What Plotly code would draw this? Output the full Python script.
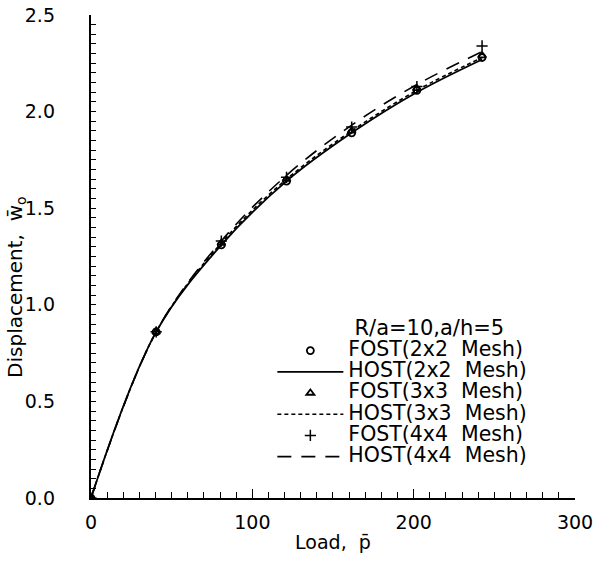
import plotly.graph_objects as go

load = [0, 40.4, 80.8, 121.2, 161.6, 202, 242.4]

fost_2x2 = [0, 0.86, 1.31, 1.64, 1.89, 2.11, 2.28]
host_2x2 = [0, 0.86, 1.31, 1.64, 1.89, 2.10, 2.27]
fost_3x3 = [0, 0.86, 1.32, 1.65, 1.90, 2.12, 2.29]
host_3x3 = [0, 0.86, 1.32, 1.65, 1.90, 2.11, 2.28]
fost_4x4 = [0, 0.86, 1.33, 1.66, 1.92, 2.13, 2.34]
host_4x4 = [0, 0.86, 1.33, 1.67, 1.93, 2.14, 2.31]

x_ticks = [0, 100, 200, 300]
y_ticks = [0, 0.5, 1.0, 1.5, 2.0, 2.5]

legend_title = "R/a=10,a/h=5"
names = ["FOST(2x2  Mesh)", "HOST(2x2  Mesh)", "FOST(3x3  Mesh)",
         "HOST(3x3  Mesh)", "FOST(4x4  Mesh)", "HOST(4x4  Mesh)"]
x_title = "Load,  p\u0304"
y_title = "Displacement,  w\u0304<sub>o</sub>"

FONT = "DejaVu Sans"
NB = "\u00a0"


def big(t):
    return '<span style="font-size:20.5px">' + t + '</span>'


fig = go.Figure()

fig.add_trace(go.Scatter(x=load, y=fost_2x2, mode="markers", name=big(names[0]),
                         marker=dict(symbol="circle-open", size=7, color="black", line=dict(width=1.8))))
fig.add_trace(go.Scatter(x=load, y=host_2x2, mode="lines", name=big(names[1]), line_shape="spline",
                         line=dict(color="black", width=1.8)))
fig.add_trace(go.Scatter(x=load, y=fost_3x3, mode="markers", name=big(names[2]),
                         marker=dict(symbol="triangle-up-open", size=7, color="black", line=dict(width=1.8))))
fig.add_trace(go.Scatter(x=load, y=host_3x3, mode="lines", name=big(names[3]), line_shape="spline",
                         line=dict(color="black", width=1.6, dash="4px,3px")))
fig.add_trace(go.Scatter(x=load, y=fost_4x4, mode="markers", name=big(names[4]),
                         xaxis="x3", yaxis="y3",
                         marker=dict(symbol="cross-thin-open", size=8, color="black", line=dict(width=1.5))))
fig.add_trace(go.Scatter(x=load, y=host_4x4, mode="lines", name=big(names[5]), line_shape="spline",
                         xaxis="x2", yaxis="y2",
                         line=dict(color="black", width=1.6, dash="14px,10px")))

xr = [x_ticks[0], x_ticks[-1]]
yr = [y_ticks[0], y_ticks[-1]]
XDOM = [0.0692, 1.0]

fig.update_layout(
    width=593, height=561,
    margin=dict(l=55, r=18, t=15, b=63),
    paper_bgcolor="white", plot_bgcolor="white",
    font=dict(family=FONT, size=19, color="black"),
    showlegend=True,
    legend=dict(
        title=dict(text=NB * 12 + legend_title, font=dict(size=21)),
        x=0.418, y=0.394, xanchor="left", yanchor="top",
        bgcolor="rgba(0,0,0,0)", itemwidth=66, tracegroupgap=0,
        font=dict(size=14), itemsizing="trace",
    ),
    xaxis=dict(
        domain=XDOM, range=xr, automargin=False,
        tickmode="array", tickvals=x_ticks,
        showline=True, linecolor="black", linewidth=1.5,
        ticks="inside", ticklen=9, tickwidth=1.3, tickcolor="black",
        showgrid=False, zeroline=False,
        ticklabelstandoff=6, ticklabeloverflow="allow",
        title=dict(text=x_title, standoff=4, font=dict(size=19)),
        tickfont=dict(size=19),
    ),
    xaxis2=dict(
        range=xr, overlaying="x", side="bottom", automargin=False,
        tickmode="linear", tick0=0, dtick=10,
        showticklabels=False, showline=False, showgrid=False, zeroline=False,
        ticks="inside", ticklen=6, tickwidth=1.2, tickcolor="black",
    ),
    xaxis3=dict(
        range=xr, overlaying="x", side="bottom", automargin=False,
        tickmode="array", tickvals=x_ticks,
        showticklabels=False, showline=False, showgrid=False, zeroline=False,
        ticks="inside", ticklen=9, tickwidth=1.3, tickcolor="black",
    ),
    yaxis=dict(
        range=yr, automargin=False,
        showticklabels=False, ticks="",
        showline=True, linecolor="black", linewidth=1.5,
        showgrid=False, zeroline=False,
    ),
    yaxis2=dict(
        range=yr, overlaying="y", side="left", automargin=False,
        tickmode="linear", tick0=0, dtick=0.05,
        showticklabels=False, showline=False, showgrid=False, zeroline=False,
        ticks="inside", ticklen=5, tickwidth=1.2, tickcolor="black",
    ),
    yaxis3=dict(
        range=yr, overlaying="y", side="left", anchor="free", position=0,
        automargin=False,
        tickmode="array", tickvals=y_ticks, tickformat=".1f",
        showticklabels=True, showline=False, showgrid=False, zeroline=False,
        ticks="",
        ticklabeloverflow="allow",
        tickfont=dict(size=19, family=FONT, color="black"),
    ),
    annotations=[dict(
        text=y_title, textangle=-90, xref="paper", yref="paper",
        x=-0.075, y=0.437, xanchor="center", yanchor="middle",
        showarrow=False, font=dict(size=20),
    )],
)

fig.write_html("out.html")
